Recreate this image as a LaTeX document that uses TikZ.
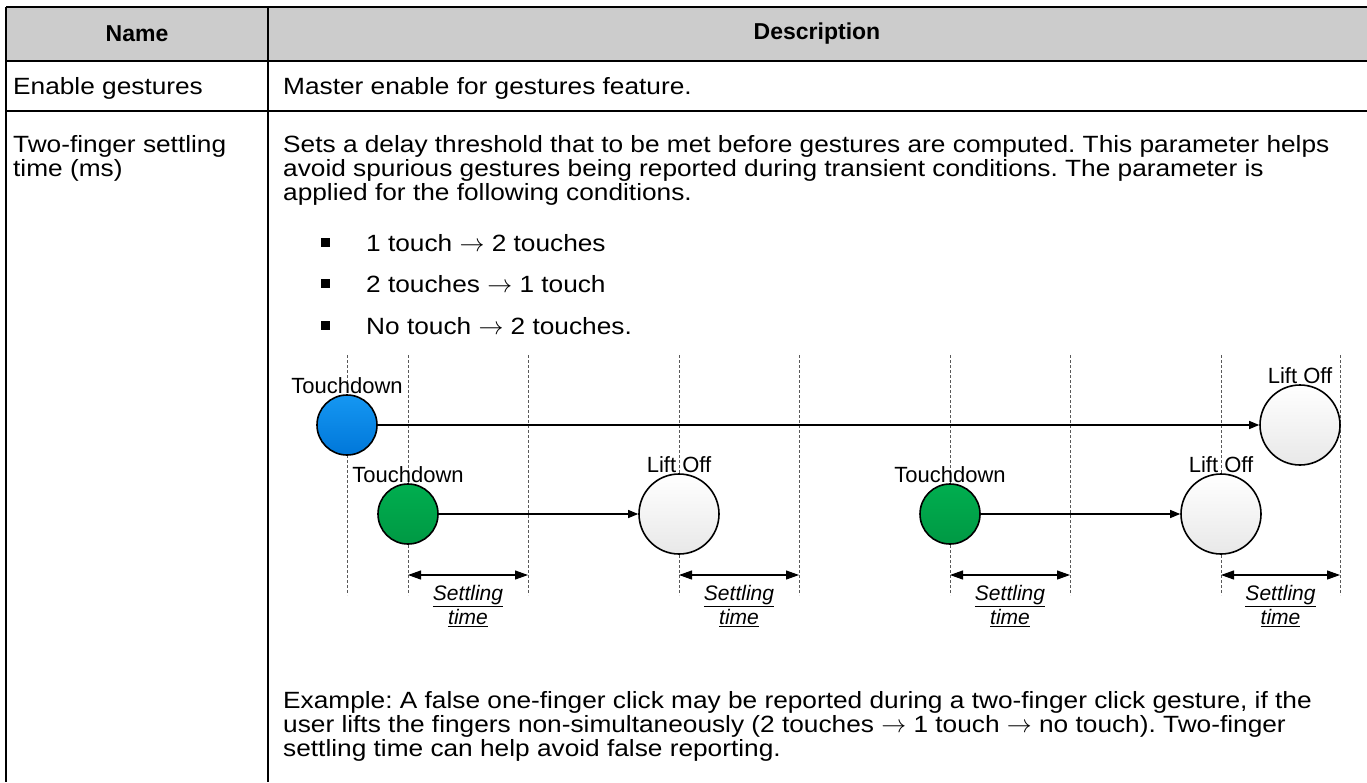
\documentclass[tikz,border=0pt]{standalone}
\usepackage{fontspec}
\setmainfont{Liberation Sans}
\newfontfamily\bodyfont{Liberation Sans}[FakeStretch=1.117]
\usetikzlibrary{arrows.meta}
\definecolor{hdrgray}{HTML}{CCCCCC}
\definecolor{bluetop}{HTML}{1597F2}
\definecolor{bluebot}{HTML}{0077D9}
\definecolor{greentop}{HTML}{00AE4F}
\definecolor{greenbot}{HTML}{009944}
\definecolor{lifttop}{HTML}{FFFFFF}
\definecolor{liftbot}{HTML}{E8E8E8}
\tikzset{
  rule/.style={line width=2pt},
  body/.style={font=\bodyfont\fontsize{23.5pt}{24pt}\selectfont},
  cell/.style={body, inner sep=0pt, anchor=base west, align=left},
  hdr/.style={inner sep=0pt, font=\fontsize{23pt}{24pt}\selectfont\bfseries},
  lbl/.style={inner sep=0pt, font=\fontsize{22pt}{24pt}\selectfont},
  guide/.style={line width=0.7pt, gray!70!black, dash pattern=on 3pt off 2pt},
  touch/.style={circle, draw, line width=1.6pt, inner sep=0pt, minimum size=60pt},
  blueball/.style={touch, top color=bluetop, bottom color=bluebot},
  greenball/.style={touch, top color=greentop, bottom color=greenbot},
  liftball/.style={touch, minimum size=80pt, top color=lifttop, bottom color=liftbot},
  flow/.style={line width=1.1pt, -{Triangle[length=10pt,width=8pt]}},
  span/.style={line width=1.1pt, {Triangle[length=13pt,width=9pt]}-{Triangle[length=13pt,width=9pt]}},
  settle/.style={lbl, align=center, font=\fontsize{21pt}{24pt}\selectfont\itshape}
}
\newcommand{\ul}[1]{\underline{#1}}
\frenchspacing

\begin{document}
\begin{tikzpicture}[x=1pt,y=-1pt]
\useasboundingbox (0,0) rectangle (1367,782);
% table frame
\fill[hdrgray] (6,7) rectangle (1367,61);
\draw[rule] (6,7) -- (1367,7);
\draw[rule] (6,61) -- (1367,61);
\draw[rule] (6,111) -- (1367,111);
\draw[rule] (6,7) -- (6,782);
\draw[rule] (268,7) -- (268,782);
\node[hdr] (name) at (137,34) {Name};
\node[hdr] (desc) at (817,34) {Description};
% first row
\node[cell] (enable) at (13,94) {Enable gestures};
\node[cell] (master) at (283,94) {Master enable for gestures feature.};
% second row (base = last line)
\node[cell] (twofinger) at (13,176) {Two-finger settling\\time (ms)};
\node[cell] (sets) at (283,200) {Sets a delay threshold that to be met before gestures are computed. This parameter helps\\
avoid spurious gestures being reported during transient conditions. The parameter is\\
applied for the following conditions.};
\foreach \y/\t [count=\i] in {251/1 touch $\rightarrow$ 2 touches, 292/2 touches $\rightarrow$ 1 touch, 334/No touch $\rightarrow$ 2 touches.} {
  \fill (320.5,\y-13.5) rectangle (329.5,\y-4.5);
  \node[cell] (cond\i) at (366,\y) {\t};
}
% timing guides
\foreach \x in {347,408,528,679,799,950,1070,1221,1340}
  \draw[guide] (\x,355) -- (\x,595);
% touches
\node[blueball, label={[lbl]above:Touchdown}] (td0) at (347,425) {};
\node[greenball, label={[lbl]above:Touchdown}] (td1) at (408,514) {};
\node[greenball, label={[lbl]above:Touchdown}] (td2) at (950,514) {};
\node[liftball, label={[lbl]above:Lift Off}] (lo0) at (1300,425) {};
\node[liftball, label={[lbl]above:Lift Off}] (lo1) at (679,514) {};
\node[liftball, label={[lbl]above:Lift Off}] (lo2) at (1221,514) {};
\draw[flow] (td0) -- (lo0);
\draw[flow] (td1) -- (lo1);
\draw[flow] (td2) -- (lo2);
% settling spans
\foreach \a/\b [count=\i] in {408/528, 679/799, 950/1070, 1221/1340} {
  \coordinate (sa\i) at (\a,575);
  \coordinate (sb\i) at (\b,575);
  \draw[span] (sa\i) -- (sb\i) node[settle, midway, below=10pt] {\ul{Settling}\\\ul{time}};
}
% example (base = last line)
\node[cell] (example) at (283,756) {Example: A false one-finger click may be reported during a two-finger click gesture, if the\\
user lifts the fingers non-simultaneously (2 touches $\rightarrow$ 1 touch $\rightarrow$ no touch). Two-finger\\
settling time can help avoid false reporting.};
\end{tikzpicture}
\end{document}
